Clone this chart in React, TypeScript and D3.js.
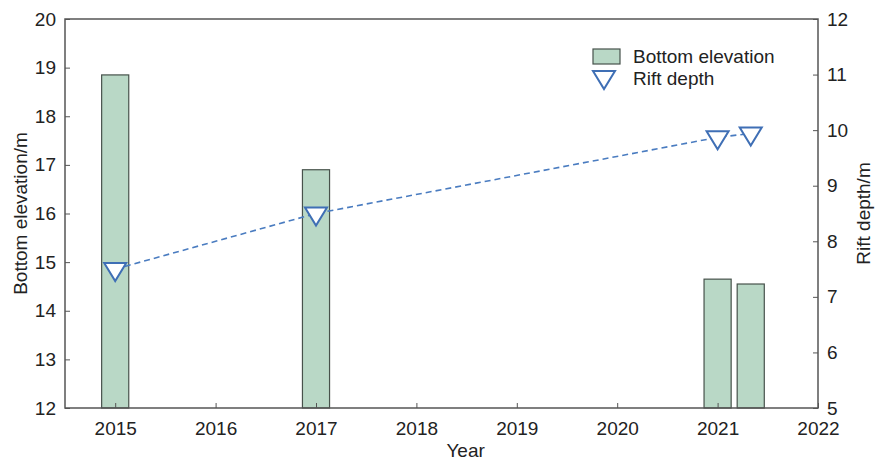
import React, { useRef, useEffect } from "react";
import * as d3 from "d3";

// data
const years = [2015, 2017, 2021, 2021.33];
const bottomElevation = [18.85, 16.9, 14.65, 14.55];
const riftDepth = [7.5, 8.5, 9.87, 9.94];
const xTicks = [2015, 2016, 2017, 2018, 2019, 2020, 2021, 2022];
const leftTicks = [12, 13, 14, 15, 16, 17, 18, 19, 20];
const rightTicks = [5, 6, 7, 8, 9, 10, 11, 12];

const App = () => {
  const container = useRef(null);

  const width = 875;
  const height = 460;
  const margin = { top: 19, right: 57, bottom: 52, left: 65 };
  const font = "'Liberation Sans', Arial, sans-serif";

  useEffect(() => {
    const svg = d3.select(container.current);
    svg.selectAll("*").remove();

    const x = d3
      .scaleLinear()
      .domain([2014.5, 2022])
      .range([margin.left, width - margin.right]);
    const yL = d3
      .scaleLinear()
      .domain([12, 20])
      .range([height - margin.bottom, margin.top]);
    const yR = d3
      .scaleLinear()
      .domain([5, 12])
      .range([height - margin.bottom, margin.top]);

    const data = years.map((yr, i) => ({
      year: yr,
      elev: bottomElevation[i],
      depth: riftDepth[i],
    }));

    const barW = 0.27;
    const axisColor = "#555";

    // bars
    svg
      .append("g")
      .selectAll("rect")
      .data(data)
      .enter()
      .append("rect")
      .attr("x", (d) => x(d.year - barW / 2))
      .attr("width", (d) => x(d.year + barW / 2) - x(d.year - barW / 2))
      .attr("y", (d) => yL(d.elev))
      .attr("height", (d) => yL(12) - yL(d.elev))
      .attr("fill", "#b9d8c6")
      .attr("stroke", "#47524b")
      .attr("stroke-width", 1.2);

    // dashed line
    const line = d3
      .line()
      .x((d) => x(d.year))
      .y((d) => yR(d.depth));
    svg
      .append("path")
      .datum(data)
      .attr("d", line)
      .attr("fill", "none")
      .attr("stroke", "#4a7cc0")
      .attr("stroke-width", 1.6)
      .attr("stroke-dasharray", "6,4");

    // triangle markers (centroid on point)
    const tri = (cx, cy) => {
      const w = 11;
      const h = 18;
      return `M${cx - w},${cy - h / 3}L${cx + w},${cy - h / 3}L${cx},${cy + (2 * h) / 3}Z`;
    };
    svg
      .append("g")
      .selectAll("path")
      .data(data)
      .enter()
      .append("path")
      .attr("d", (d) => tri(x(d.year), yR(d.depth)))
      .attr("fill", "white")
      .attr("stroke", "#3f6fb5")
      .attr("stroke-width", 2)
      .attr("stroke-linejoin", "miter");

    // frame
    svg
      .append("rect")
      .attr("x", margin.left)
      .attr("y", margin.top)
      .attr("width", width - margin.left - margin.right)
      .attr("height", height - margin.top - margin.bottom)
      .attr("fill", "none")
      .attr("stroke", axisColor)
      .attr("stroke-width", 1.5);

    // axes
    const styleAxis = (g) => {
      g.select(".domain").remove();
      g.selectAll("line").attr("stroke", axisColor);
      g.selectAll("text")
        .attr("fill", "#222")
        .style("font-family", font)
        .style("font-size", "19px");
    };

    svg
      .append("g")
      .attr("transform", `translate(0, ${height - margin.bottom})`)
      .call(
        d3
          .axisBottom(x)
          .tickValues(xTicks)
          .tickFormat(d3.format("d"))
          .tickSize(-5)
          .tickPadding(14)
      )
      .call(styleAxis);

    svg
      .append("g")
      .attr("transform", `translate(${margin.left}, 0)`)
      .call(
        d3
          .axisLeft(yL)
          .tickValues(leftTicks)
          .tickFormat(d3.format("d"))
          .tickSize(-5)
          .tickPadding(9)
      )
      .call(styleAxis);

    svg
      .append("g")
      .attr("transform", `translate(${width - margin.right}, 0)`)
      .call(
        d3
          .axisRight(yR)
          .tickValues(rightTicks)
          .tickFormat(d3.format("d"))
          .tickSize(-5)
          .tickPadding(9)
      )
      .call(styleAxis);

    // axis titles
    svg
      .append("text")
      .attr("x", x(2018.5) - 1)
      .attr("y", 457)
      .attr("text-anchor", "middle")
      .style("font-family", font)
      .style("font-size", "19px")
      .attr("fill", "#222")
      .text("Year");

    svg
      .append("text")
      .attr("transform", `translate(27, ${(margin.top + height - margin.bottom) / 2}) rotate(-90)`)
      .attr("text-anchor", "middle")
      .style("font-family", font)
      .style("font-size", "19px")
      .attr("fill", "#222")
      .text("Bottom elevation/m");

    svg
      .append("text")
      .attr("transform", `translate(870, ${(margin.top + height - margin.bottom) / 2}) rotate(-90)`)
      .attr("text-anchor", "middle")
      .style("font-family", font)
      .style("font-size", "19px")
      .attr("fill", "#222")
      .text("Rift depth/m");

    // legend
    const legend = svg.append("g").attr("transform", "translate(593, 49)");
    legend
      .append("rect")
      .attr("x", 0)
      .attr("y", 0)
      .attr("width", 27)
      .attr("height", 15)
      .attr("fill", "#b9d8c6")
      .attr("stroke", "#47524b")
      .attr("stroke-width", 1.2);
    legend
      .append("path")
      .attr("d", tri(11, 28))
      .attr("fill", "white")
      .attr("stroke", "#3f6fb5")
      .attr("stroke-width", 2);
    legend
      .selectAll("text")
      .data(["Bottom elevation", "Rift depth"])
      .enter()
      .append("text")
      .attr("x", 40)
      .attr("y", (d, i) => 14 + i * 22)
      .style("font-family", font)
      .style("font-size", "19px")
      .attr("fill", "#222")
      .text((d) => d);
    // eslint-disable-next-line react-hooks/exhaustive-deps
  }, []);

  return (
    <svg
      ref={container}
      width={width}
      height={height}
      style={{ position: "absolute", left: 0, top: 0, background: "white" }}
    />
  );
};

export default App;
